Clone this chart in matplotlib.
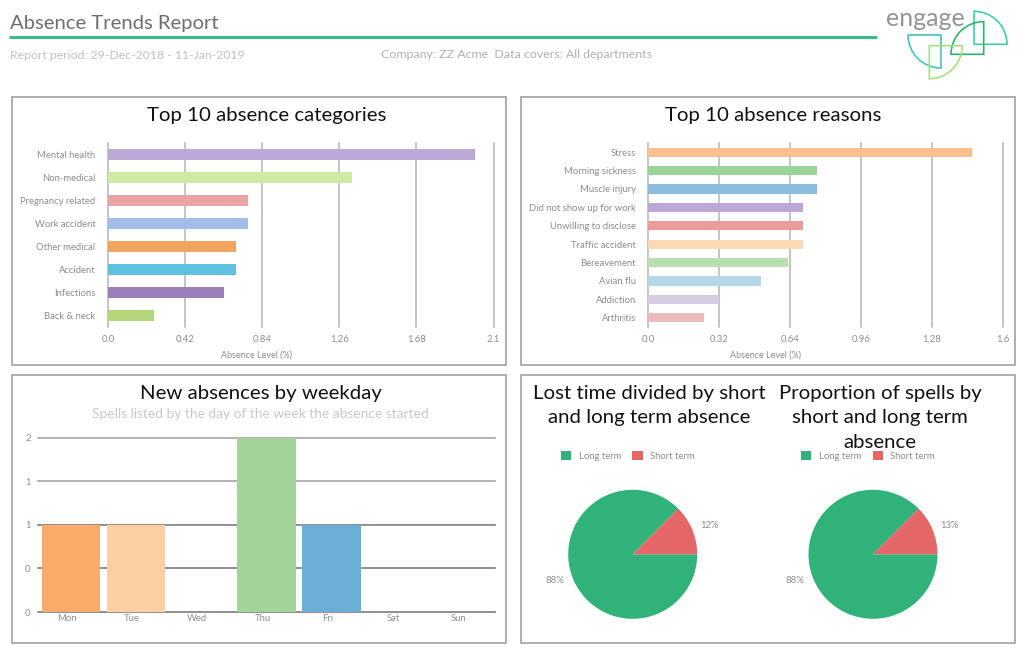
import matplotlib
matplotlib.use('Agg')
import matplotlib.pyplot as plt
from matplotlib.patches import Rectangle, Wedge

plt.rcParams['font.family'] = ['Lato', 'DejaVu Sans']

W, H = 1024, 653

# Top 10 absence categories
categories = ['Mental health', 'Non-medical', 'Pregnancy related', 'Work accident',
              'Other medical', 'Accident', 'Infections', 'Back & neck']
category_values = [2.0, 1.33, 0.76, 0.76, 0.70, 0.70, 0.63, 0.25]
category_colors = ['#bba8d6', '#cfeaa2', '#eba3a3', '#a2bdea',
                   '#f0a45f', '#5fc0e0', '#9b7fba', '#b3d67a']
category_ticks = [0, 0.42, 0.84, 1.26, 1.68, 2.1]
category_ticklabels = ['0.0', '0.42', '0.84', '1.26', '1.68', '2.1']

# Top 10 absence reasons
reasons = ['Stress', 'Morning sickness', 'Muscle injury', 'Did not show up for work',
           'Unwilling to disclose', 'Traffic accident', 'Bereavement', 'Avian flu',
           'Addiction', 'Arthritis']
reason_values = [1.46, 0.76, 0.76, 0.70, 0.70, 0.70, 0.63, 0.51, 0.32, 0.25]
reason_colors = ['#fdbf8d', '#98d496', '#8bbcdd', '#bba8d6', '#eb9b9b',
                 '#fdd8b5', '#b8dfb0', '#b5d8e9', '#d5cce3', '#ecbcbc']
reason_ticks = [0, 0.32, 0.64, 0.96, 1.28, 1.6]
reason_ticklabels = ['0.0', '0.32', '0.64', '0.96', '1.28', '1.6']

# New absences by weekday
weekdays = ['Mon', 'Tue', 'Wed', 'Thu', 'Fri', 'Sat', 'Sun']
weekday_values = [1, 1, 0, 2, 1, 0, 0]
weekday_colors = ['#fbab69', '#fcd0a2', '#ffffff', '#a2d399', '#6baed6', '#ffffff', '#ffffff']
weekday_ticks = [0, 0.5, 1, 1.5, 2]
weekday_ticklabels = ['0', '0', '1', '1', '2']
weekday_grid_colors = ['#707070', '#707070', '#707070', '#9c9c9c', '#9c9c9c']

# Pies
pie_names = ['Long term', 'Short term']
pie_colors = ['#31b27a', '#e56666']
lost_time = [87.5, 12.5]
lost_time_labels = ['88%', '12%']
spells = [87.5, 12.5]
spells_labels = ['88%', '13%']

GREY = '#8c8c8c'
TICK_SIZE = 6.8
TITLE_SIZE = 14.65


# Make an axes from pixel positions, measured from the top left
def px_axes(x0, y0, x1, y1):
    return fig.add_axes([x0 / W, 1 - y1 / H, (x1 - x0) / W, (y1 - y0) / H])


# Horizontal bars with vertical grid lines
def bar_panel(box, names, values, colors, ticks, ticklabels, label_x):
    ax = px_axes(*box)
    y = list(range(len(names)))
    ax.barh(y, values, height=0.5, color=colors, zorder=3)
    ax.set_ylim(len(names) - 0.5, -0.5)
    ax.set_xlim(ticks[0], ticks[-1])
    ax.set_yticks(y)
    ax.set_yticklabels(names, fontsize=TICK_SIZE, color=GREY)
    ax.set_xticks(ticks)
    ax.set_xticklabels(ticklabels, fontsize=TICK_SIZE, color=GREY)
    ax.tick_params(length=0)
    ax.tick_params(axis='y', pad=9)
    ax.tick_params(axis='x', pad=6)
    ax.grid(axis='x', color='#b4b4b4', linewidth=1.1, zorder=0, clip_on=False)
    for spine in ax.spines.values():
        spine.set_visible(False)
    bg.text(label_x, 354.7, 'Absence Level (%)', fontsize=6.5, color=GREY,
            ha='center', va='center')
    return ax


def pie_panel(cx, values, labels):
    r = 64.5
    ax = px_axes(cx - r, 554.3 - r, cx + r, 554.3 + r)
    wedges, texts = ax.pie(values, labels=labels, colors=pie_colors, startangle=45, radius=1,
                           textprops={'fontsize': TICK_SIZE, 'color': GREY})
    texts[0].set_position((-1.21, -0.41))
    texts[1].set_position((1.19, 0.44))
    for t in texts:
        t.set_ha('center')
        t.set_va('center')
    ax.set_xlim(-1, 1)
    ax.set_ylim(-1, 1)
    ax.legend(wedges, pie_names, loc='center', bbox_to_anchor=((cx - 5) / W, 1 - 456 / H),
              bbox_transform=fig.transFigure, ncol=2, frameon=False,
              fontsize=TICK_SIZE, labelcolor=GREY,
              handlelength=1.1, handleheight=1.1, handletextpad=0.8, columnspacing=1.2)


fig = plt.figure(figsize=(W / 100, H / 100), dpi=100, facecolor='white')

# Full page axes in pixels for the boxes, headings and logo
bg = fig.add_axes([0, 0, 1, 1])
bg.set_xlim(0, W)
bg.set_ylim(H, 0)
bg.axis('off')

for x, y in [(11.5, 97), (520.5, 97), (11.5, 375), (520.5, 375)]:
    bg.add_patch(Rectangle((x, y), 494.5, 268, fill=False, edgecolor='#a0a0a0', linewidth=1.2))

# Header
bg.text(9.5, 23.5, 'Absence Trends Report', fontsize=14.6, color='#6e6e6e', va='center')
bg.plot([9, 877], [37, 37], color='#3dbb85', linewidth=2.2, solid_capstyle='butt')
bg.text(9.5, 55.5, 'Report period: 29-Dec-2018 - 11-Jan-2019', fontsize=8.8, color='#c0c0c0', va='center')
bg.text(381, 54, 'Company: ZZ Acme  Data covers: All departments', fontsize=8.95, color='#b0b0b0', va='center')

# Logo
bg.text(925, 18, 'engage', fontsize=18, color='#949494', ha='center', va='center')
bg.add_patch(Wedge((974, 44.3), 33, 270, 360, fill=False, edgecolor='#3dd0a0', linewidth=1.2))
bg.add_patch(Wedge((983.7, 54.3), 32.7, 180, 270, fill=False, edgecolor='#2db56f', linewidth=1.2))
bg.add_patch(Wedge((941, 35), 33, 90, 180, fill=False, edgecolor='#45c4bb', linewidth=1.2))
bg.add_patch(Wedge((929.3, 45.7), 33, 0, 90, fill=False, edgecolor='#a5e07f', linewidth=1.2))

# Titles
bg.text(266.7, 116, 'Top 10 absence categories', fontsize=TITLE_SIZE, color='#111111', ha='center', va='center')
bg.text(773, 116, 'Top 10 absence reasons', fontsize=TITLE_SIZE, color='#111111', ha='center', va='center')
bg.text(260.7, 394, 'New absences by weekday', fontsize=TITLE_SIZE, color='#111111', ha='center', va='center')
bg.text(260, 414.5, 'Spells listed by the day of the week the absence started', fontsize=9.95,
        color='#c8c8c8', ha='center', va='center')
for y, line in zip([394, 418], ['Lost time divided by short', 'and long term absence']):
    bg.text(649, y, line, fontsize=TITLE_SIZE, color='#111111', ha='center', va='center')
for y, line in zip([394, 418, 442], ['Proportion of spells by', 'short and long term', 'absence']):
    bg.text(880, y, line, fontsize=TITLE_SIZE, color='#111111', ha='center', va='center')

bar_panel((108, 143, 493.5, 327), categories, category_values, category_colors,
          category_ticks, category_ticklabels, 256.7)
bar_panel((648.3, 143, 1002.7, 327), reasons, reason_values, reason_colors,
          reason_ticks, reason_ticklabels, 765)

# Weekday columns
ax3 = px_axes(38.3, 437.7, 494.7, 612)
x_pos = list(range(len(weekdays)))
ax3.bar(x_pos, weekday_values, width=0.9, color=weekday_colors, zorder=3)
ax3.set_xlim(-0.5, 6.5)
ax3.set_ylim(0, 2)
ax3.set_yticks(weekday_ticks)
ax3.set_yticklabels(weekday_ticklabels, fontsize=TICK_SIZE, color=GREY)
ax3.set_xticks([p - 0.06 for p in x_pos])
ax3.set_xticklabels(weekdays, fontsize=TICK_SIZE, color=GREY)
ax3.tick_params(length=0)
ax3.tick_params(axis='y', pad=5.5)
ax3.tick_params(axis='x', pad=1.5)
ax3.grid(axis='y', linewidth=1.1, zorder=0, clip_on=False)
for line, color in zip(ax3.get_ygridlines(), weekday_grid_colors):
    line.set_color(color)
for spine in ax3.spines.values():
    spine.set_visible(False)

# Pies and their legends
pie_panel(632.7, lost_time, lost_time_labels)
pie_panel(873, spells, spells_labels)

fig.savefig('out.png', dpi=100)
